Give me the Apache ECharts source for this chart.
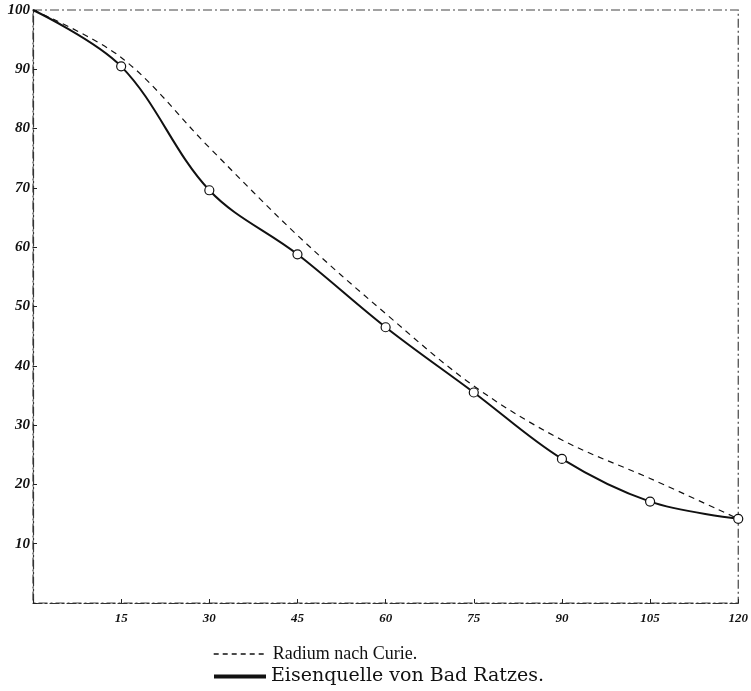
<!DOCTYPE html>
<html>
    <head>
        <meta charset="utf-8">
        <title>Radium nach Curie / Eisenquelle von Bad Ratzes</title>
        <style>
            html, body { margin: 0; padding: 0; background: #fff; }
            #chart { width: 751px; height: 691px; }
        </style>
        <script src="https://cdn.jsdelivr.net/npm/echarts@6/dist/echarts.min.js"></script>
    </head>
    <body>
        <div id="chart"></div>
        <script>
        // Zeit (x) und Aktivität in Prozent (y)
        var zeit = [0, 15, 30, 45, 60, 75, 90, 105, 120]
        var radiumCurie = [100, 92, 76.8, 62, 48.8, 36.6, 27.5, 21, 14.2]
        var eisenquelle = [100, 90.5, 69.6, 58.8, 46.5, 35.5, 24.3, 17.1, 14.2]
        var namen = ['Radium nach Curie.', 'Eisenquelle von Bad Ratzes.']

        var paare = function(werte) {
            return zeit.map(function(x, i) { return [x, werte[i]] })
        }

        var achsenLinie = { color: '#333', width: 1.2, type: [9, 3, 2, 3] }
        var zahlen = function(groesse, abstand) {
            return {
                fontFamily: 'Liberation Serif',
                fontStyle: 'italic',
                fontWeight: 'bold',
                fontSize: groesse,
                margin: abstand,
                color: '#111',
                formatter: function(v) { return v === 0 ? '' : v }
            }
        }

        var myChart = echarts.init(document.getElementById('chart'))
        var option = {
            animation: false,
            grid: {
                left: 33, right: 10, top: 10, bottom: 88,
                show: true,
                borderColor: '#444',
                borderWidth: 1.2,
                borderType: [9, 3, 2, 3]
            },
            legend: [
                {
                    left: 208,
                    top: 640,
                    itemWidth: 54,
                    itemHeight: 14,
                    textStyle: { fontFamily: 'Liberation Serif', fontSize: 18, color: '#111', padding: [0, 0, 4, 0] },
                    data: [
                        { name: namen[0], itemStyle: { opacity: 0 }, lineStyle: { type: [5, 4], width: 1.4, color: '#111' } }
                    ]
                },
                {
                    left: 209,
                    top: 662,
                    itemWidth: 52,
                    itemHeight: 4,
                    textStyle: { fontFamily: 'DejaVu Serif', fontSize: 19, color: '#111', padding: [0, 0, 20, 0] },
                    data: [
                        { name: namen[1], icon: 'rect', itemStyle: { color: '#111', borderWidth: 0 } }
                    ]
                }
            ],
            xAxis: {
                type: 'value',
                min: 0, max: 120, interval: 15,
                splitLine: { show: false },
                axisLine: { lineStyle: achsenLinie },
                axisTick: { inside: true, length: 4, lineStyle: { color: '#222' } },
                axisLabel: zahlen(13, 9)
            },
            yAxis: {
                type: 'value',
                min: 0, max: 100, interval: 10,
                splitLine: { show: false },
                axisLine: { show: true, lineStyle: achsenLinie },
                axisTick: { show: true, inside: true, length: 4, lineStyle: { color: '#222' } },
                axisLabel: zahlen(15, 3)
            },
            series: [
                {
                    name: namen[0],
                    type: 'line',
                    data: paare(radiumCurie),
                    smooth: 0.35,
                    showSymbol: false,
                    symbol: 'none',
                    lineStyle: { color: '#111', width: 1.2, type: [6, 5] },
                    itemStyle: { color: '#111' }
                },
                {
                    name: namen[1],
                    type: 'line',
                    data: paare(eisenquelle),
                    smooth: 0.35,
                    symbol: function(v) { return v[0] === 0 ? 'none' : 'circle' },
                    symbolSize: 9,
                    lineStyle: { color: '#111', width: 2 },
                    itemStyle: { color: '#fff', borderColor: '#111', borderWidth: 1.2 }
                }
            ]
        }
        myChart.setOption(option)
        </script>
    </body>
</html>
